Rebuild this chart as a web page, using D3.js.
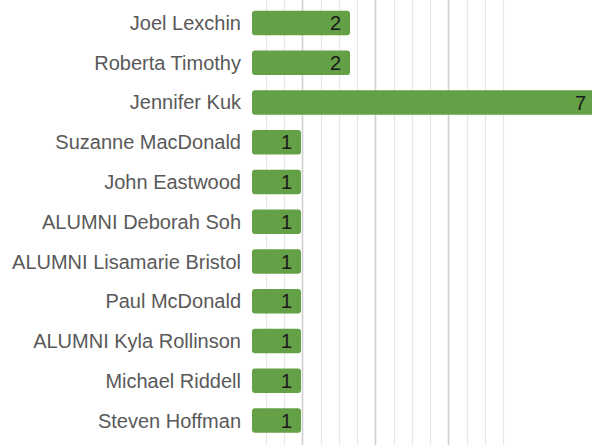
<!DOCTYPE html>
<html>
<head>
<meta charset="utf-8">
<script src="https://cdn.jsdelivr.net/npm/d3@7"></script>
<style>
  body { margin: 0; background: #fff; }
  svg { display: block; }
</style>
</head>
<body>
<div id="chart"></div>
<script>
var width = 592, height = 445;

// people and their counts, top to bottom
var names = ['Joel Lexchin', 'Roberta Timothy', 'Jennifer Kuk', 'Suzanne MacDonald', 'John Eastwood',
  'ALUMNI Deborah Soh', 'ALUMNI Lisamarie Bristol', 'Paul McDonald', 'ALUMNI Kyla Rollinson',
  'Michael Riddell', 'Steven Hoffman'];
var counts = [2, 2, 7, 1, 1, 1, 1, 1, 1, 1, 1];

// background grid ticks (light lines, every 4th darker)
var gridTicks = [0, 1, 2, 3, 4, 5, 6, 7, 8, 9, 10, 11, 12, 13];
var majorGrid = [2, 6, 10];

var svg = d3.select('#chart').append('svg')
  .attr('width', width)
  .attr('height', height);

var x = d3.scaleLinear()
  .domain([0, 7])
  .range([252, 595]);

var gridX = d3.scaleLinear()
  .domain([0, 13])
  .range([265.7, 503.3]);

var y = d3.scaleBand()
  .domain(names)
  .range([3.1, 440.4])
  .paddingInner(0.384)
  .paddingOuter(0.192);

// grid
svg.append('g')
  .selectAll('line')
  .data(gridTicks)
  .enter()
  .append('line')
  .attr('x1', d => Math.round(gridX(d)) + 0.5)
  .attr('x2', d => Math.round(gridX(d)) + 0.5)
  .attr('y1', 0)
  .attr('y2', height)
  .attr('stroke', d => majorGrid.indexOf(d) > -1 ? '#cfcfcf' : '#e6e6e6')
  .attr('stroke-width', d => majorGrid.indexOf(d) > -1 ? 1.6 : 1.2);

var rows = svg.append('g')
  .selectAll('g')
  .data(names)
  .enter()
  .append('g');

rows.append('rect')
  .attr('x', x(0))
  .attr('y', d => y(d))
  .attr('width', (d, i) => x(counts[i]) - x(0))
  .attr('height', y.bandwidth())
  .attr('rx', 3)
  .attr('fill', '#64a146');

rows.append('text')
  .attr('x', x(0) - 11)
  .attr('y', d => y(d) + y.bandwidth() / 2)
  .attr('dy', '0.35em')
  .attr('text-anchor', 'end')
  .style('font-family', '"Liberation Sans", Arial, sans-serif')
  .style('font-size', '20px')
  .attr('fill', '#595959')
  .text(d => d);

rows.append('text')
  .attr('x', (d, i) => x(counts[i]) - 9)
  .attr('y', d => y(d) + y.bandwidth() / 2)
  .attr('dy', '0.36em')
  .attr('text-anchor', 'end')
  .style('font-family', '"Liberation Sans", Arial, sans-serif')
  .style('font-size', '20px')
  .attr('fill', '#1a1a1a')
  .text((d, i) => counts[i]);
</script>
</body>
</html>
